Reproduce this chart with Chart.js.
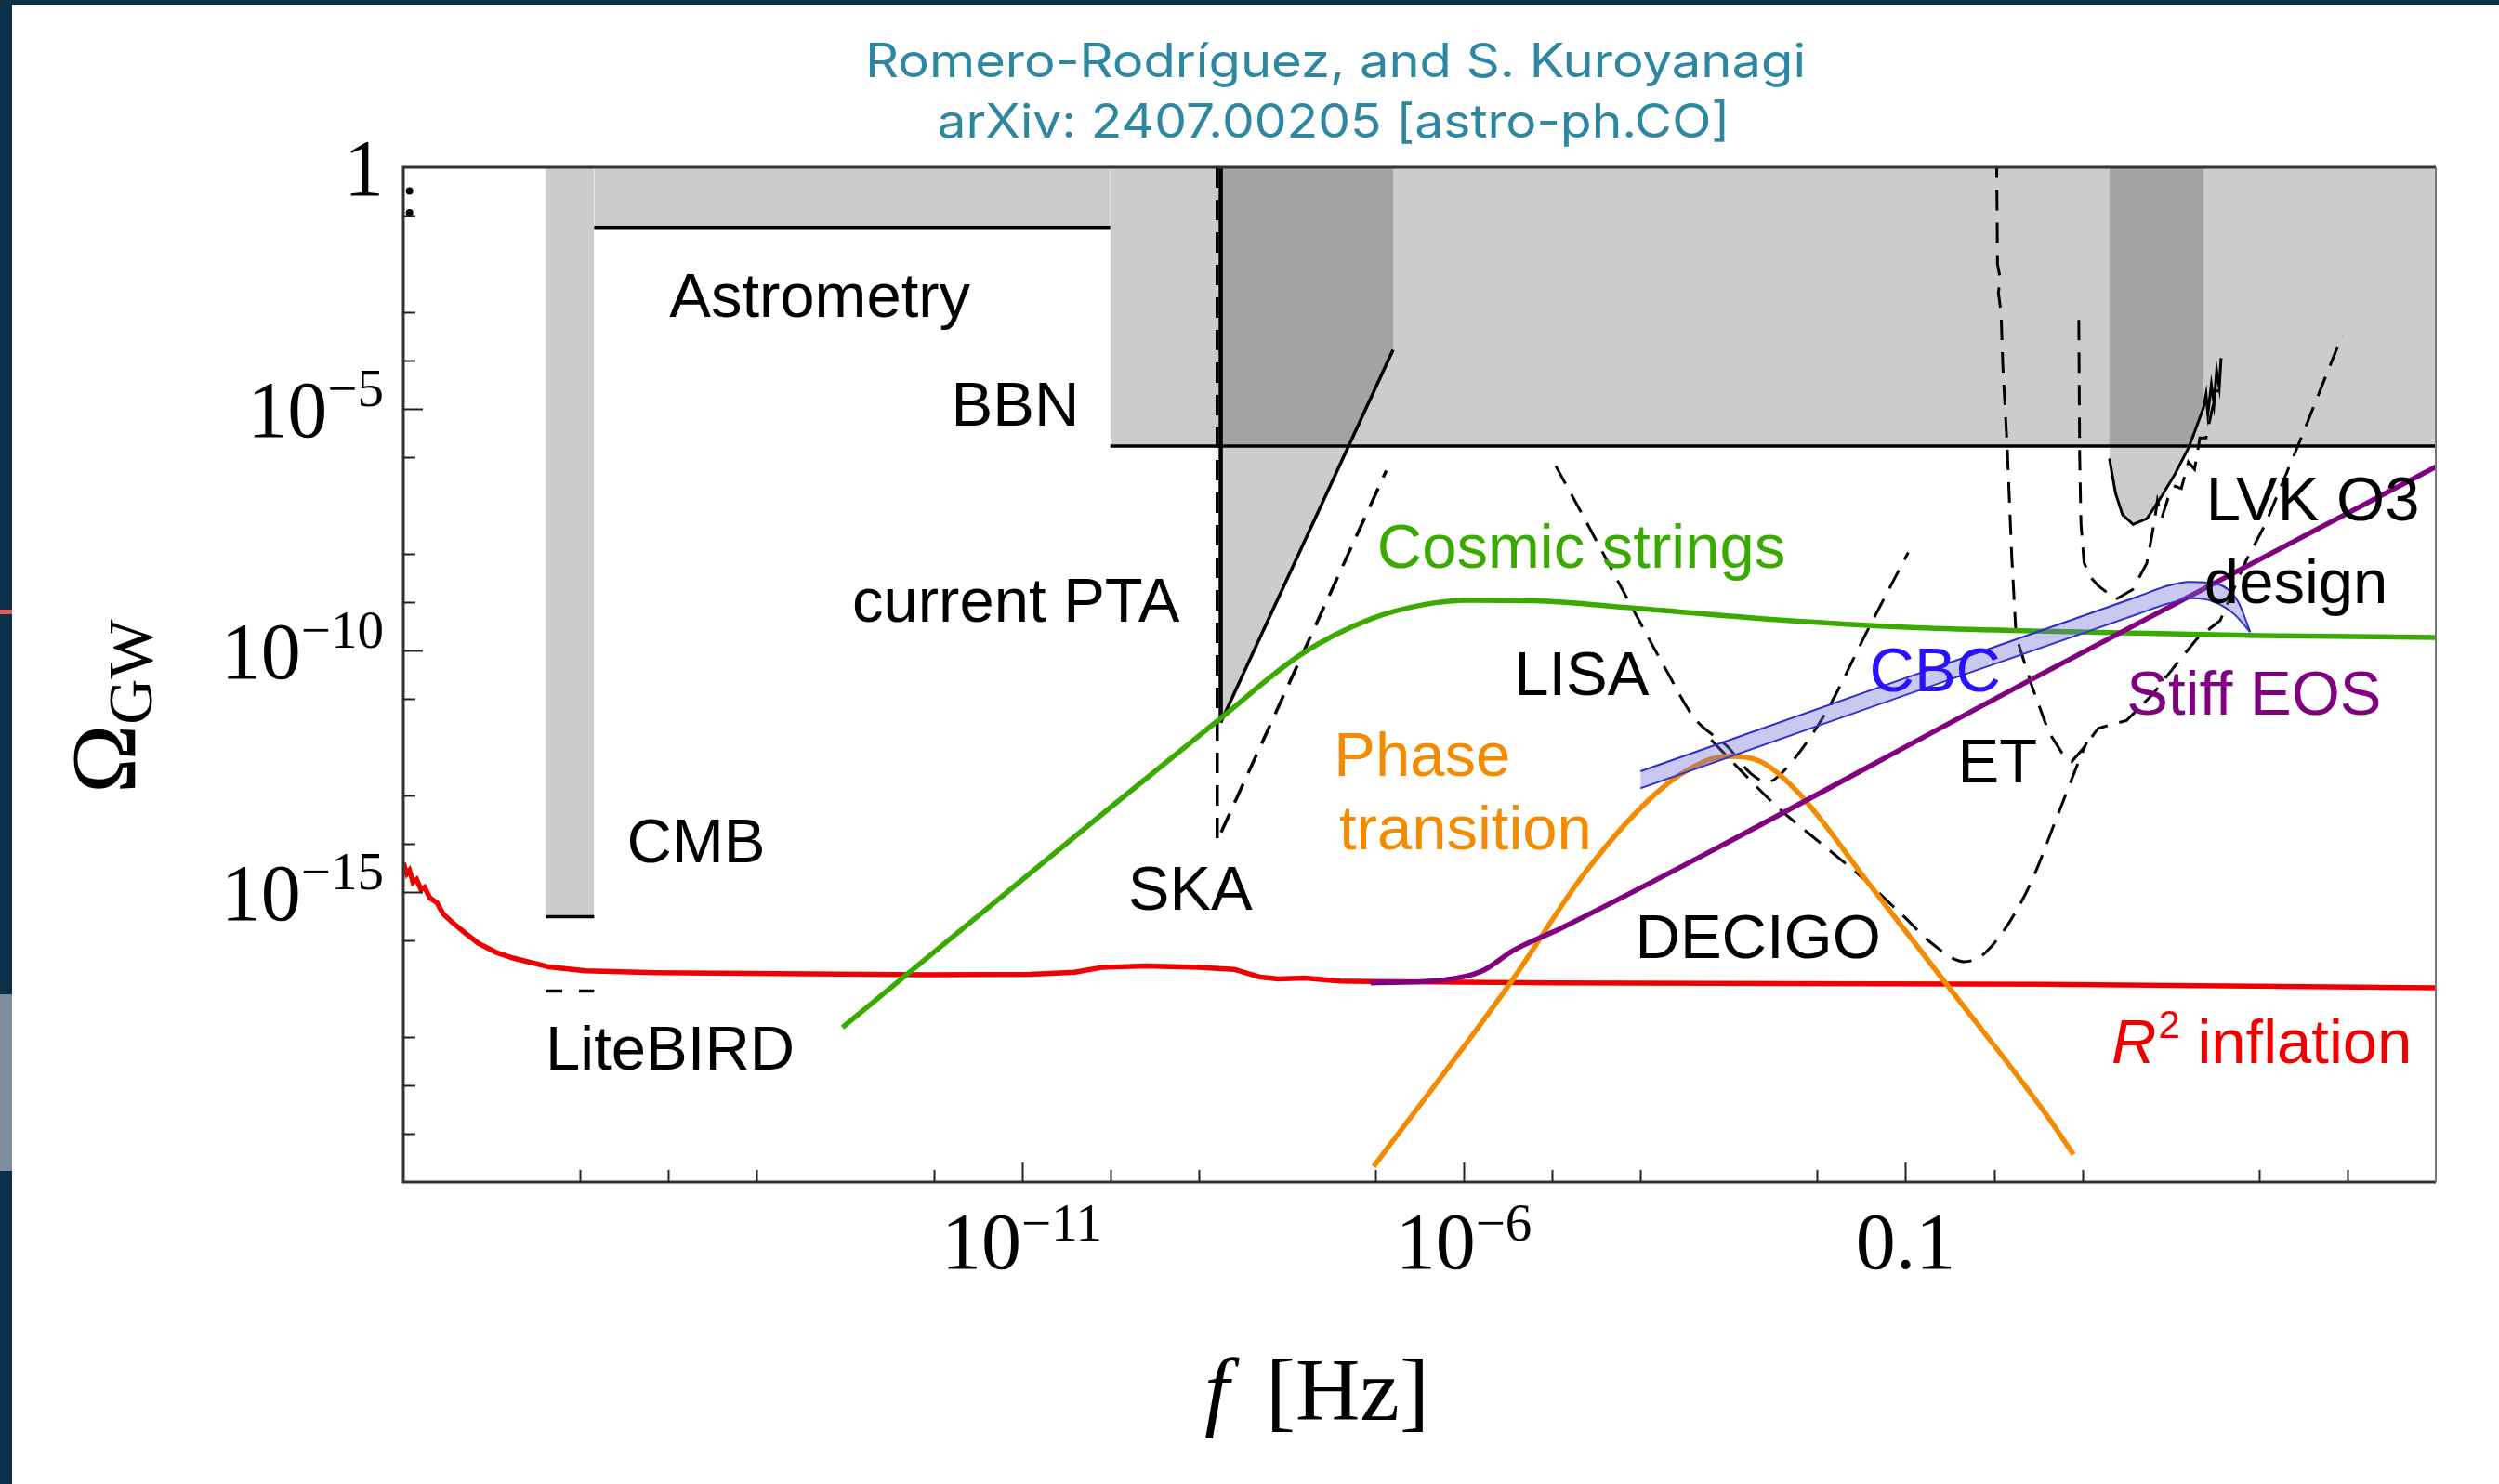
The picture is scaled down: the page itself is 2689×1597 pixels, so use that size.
<!DOCTYPE html>
<html>
<head>
<meta charset="utf-8">
<title>Omega_GW vs frequency</title>
<script src="https://cdn.jsdelivr.net/npm/chart.js@4.4.1/dist/chart.umd.min.js"></script>
<style>
  html, body { margin: 0; padding: 0; background: #fff; overflow: hidden; }
  #wrap { position: relative; width: 2689px; height: 1597px; }
</style>
</head>
<body>
<div id="wrap"><canvas id="gw" width="2689" height="1597"></canvas></div>
<script>
// --- values, as [log10 f/Hz, log10 Omega_GW] ---

// excluded regions (lower boundary, shaded up to Omega = 1)
const cmbBar = [[-16.39, -15.51], [-15.84, -15.51]];
const astrometryBound = [[-15.84, -1.245], [-10.0, -1.245]];
const bbnBound = [[-10.0, -5.77], [5.0, -5.77]];
const ptaBound = [[-8.75, -11.49], [-6.80, -3.78]];
const lvkO3Bound = [[1.306, -6.03], [1.376, -6.75], [1.455, -7.19], [1.574, -7.39], [1.732, -7.27],
  [1.89, -6.83], [2.048, -6.35], [2.206, -5.79], [2.286, -5.40], [2.372, -4.97]];

// solid limit lines
const cmbLine = [[-16.39, -15.51], [-15.84, -15.51]];
const liteBird = [[-16.39, -17.05], [-15.84, -17.05]];
const astrometryLine = [[-15.84, -1.245], [-10.0, -1.245]];
const bbnLine = [[-10.0, -5.77], [5.0, -5.77]];
const ptaLine = [[-8.75, -11.49], [-6.80, -3.78]];
const ptaWall = [[-8.75, 0], [-8.75, -11.49]];
const lvkO3 = [[1.306, -6.03], [1.376, -6.75], [1.455, -7.19], [1.574, -7.39], [1.732, -7.27],
  [1.89, -6.83], [2.048, -6.35], [2.206, -5.79], [2.286, -5.40], [2.372, -4.97], [2.40, -4.7],
  [2.42, -5.1], [2.46, -4.5], [2.49, -4.9], [2.52, -4.2], [2.55, -4.55], [2.57, -3.95]];
const topDots = [[-17.93, -0.49], [-17.93, -0.94]];

// future detectors (dashed)
const ska = [[-8.79, 0], [-8.79, -13.94], [-6.877, -6.28]];
const lisa = [[-4.96, -6.18], [-4.66, -7.18], [-4.09, -9.13], [-3.72, -10.37], [-3.39, -11.40],
  [-3.01, -12.0], [-2.75, -12.55], [-2.56, -12.72], [-2.45, -12.62], [-1.94, -11.40],
  [-1.41, -9.51], [-0.97, -7.97]];
const decigo = [[-3.2, -11.85], [-2.83, -12.55], [-2.45, -13.24], [-1.98, -13.96], [-1.51, -14.67],
  [-1.04, -15.47], [-0.67, -16.11], [-0.34, -16.44], [-0.10, -16.26], [0.37, -14.99],
  [0.74, -13.32], [0.98, -12.2], [1.05, -11.9]];
const et = [[0.03, 0.2], [0.04, -2.0], [0.07, -2.3], [0.05, -2.6], [0.08, -3.0], [0.1, -4.1],
  [0.15, -5.8], [0.2, -8.0], [0.25, -9.7], [0.43, -10.74], [0.62, -11.69], [0.78, -12.15],
  [0.88, -12.3], [1.0, -12.05], [1.18, -11.61], [1.5, -11.45], [1.8, -10.9], [2.1, -10.2],
  [2.3, -9.75], [2.56, -9.38], [2.85, -8.15], [3.07, -7.39], [3.47, -5.63], [3.94, -3.48]];
const lvkDesign = [[0.96, -3.16], [0.97, -6.0], [0.985, -7.39], [1.02, -8.19], [1.1, -8.5],
  [1.18, -8.66], [1.38, -8.94], [1.57, -8.74], [1.73, -8.19], [1.81, -7.39], [1.85, -6.9],
  [1.9, -7.25], [1.97, -6.85], [2.05, -6.6], [2.12, -6.65], [2.2, -6.1], [2.27, -6.25],
  [2.33, -5.6], [2.4, -5.6], [2.47, -5.0], [2.53, -4.6]];

// signals
const cosmicStrings = [[-13.03, -17.80], [-10.0, -13.25], [-8.75, -11.40], [-7.84, -10.08],
  [-7.04, -9.34], [-6.45, -9.05], [-5.96, -8.96], [-5.2, -8.97], [-4.09, -9.12], [-2.48, -9.36],
  [-0.87, -9.53], [0.57, -9.60], [3.0, -9.69], [5.0, -9.73]];
const r2Inflation = [[-18, -14.40], [-17.96, -14.62], [-17.93, -14.55], [-17.89, -14.80],
  [-17.85, -14.74], [-17.80, -14.95], [-17.76, -14.90], [-17.70, -15.12], [-17.62, -15.22],
  [-17.55, -15.45], [-17.45, -15.62], [-17.30, -15.85], [-17.15, -16.06], [-16.95, -16.25],
  [-16.75, -16.37], [-16.35, -16.55], [-15.94, -16.63], [-15.14, -16.67], [-12.05, -16.71],
  [-10.9, -16.70], [-10.4, -16.66], [-10.1, -16.56], [-9.6, -16.53], [-9.0, -16.56],
  [-8.6, -16.60], [-8.3, -16.76], [-8.1, -16.80], [-7.8, -16.78], [-7.4, -16.84],
  [-7.05, -16.85], [-5.0, -16.88], [0.57, -16.91], [5.0, -16.98]];
const stiffEos = [[-7.055, -16.88], [-6.23, -16.82], [-5.80, -16.64], [-5.43, -16.2],
  [-4.89, -15.74], [0.57, -10.46], [5.0, -6.20]];
const phaseTransition = [[-7.02, -20.68], [-5.48, -16.9], [-4.62, -14.58], [-3.82, -12.95],
  [-3.28, -12.30], [-2.99, -12.19], [-2.64, -12.30], [-2.21, -12.95], [-1.41, -14.84],
  [-0.54, -16.9], [0.57, -19.55], [0.90, -20.43]];
const cbcUpper = [[-4.0, -12.50], [-1.0, -10.57], [1.62, -8.89], [1.97, -8.66], [2.21, -8.58],
  [2.52, -8.62], [2.76, -8.98], [2.90, -9.62]];
const cbcLower = [[-4.0, -12.85], [-1.0, -10.92], [1.62, -9.25], [1.97, -9.03], [2.25, -8.92],
  [2.5, -9.0], [2.72, -9.25], [2.90, -9.62]];

// axis ticks (exponents) and their labels
const xTickExps = [-16, -15, -14, -12, -11, -10, -9, -7, -6, -5, -4, -2, -1, 0, 1, 3, 4];
const xMajorExps = [-11, -6, -1];
const xMajorLabels = [['10', '\u221211'], ['10', '\u22126'], ['0.1', '']];
const yTickExps = [-1, -3, -4, -5, -6, -8, -9, -10, -11, -13, -14, -15, -16, -18, -19, -20];
const yMajorExps = [0, -5, -10, -15];
const yMajorLabels = [['1', ''], ['10', '\u22125'], ['10', '\u221210'], ['10', '\u221215']];

// --- drawing setup ---
const pts = arr => arr.map(([lf, lo]) => ({ x: 10 ** lf, y: 10 ** lo }));

const SHADE = 'rgba(0,0,0,0.2)';
const GREEN = '#3aaa00', RED = '#ee0000', PURPLE = '#800080', ORANGE = '#f28b00';
const BLUE_TXT = '#2a10ff', TEAL = '#2e87a1';
const DASH = [22, 13];

const labelSpots = [
  { t: 'Astrometry', f: -14.99, o: -3.09, c: '#000' },
  { t: 'BBN', f: -11.80, o: -5.34, c: '#000' },
  { t: 'current PTA', f: -12.92, o: -9.40, c: '#000' },
  { t: 'CMB', f: -15.47, o: -14.38, c: '#000' },
  { t: 'LiteBIRD', f: -16.39, o: -18.68, c: '#000' },
  { t: 'SKA', f: -9.80, o: -15.36, c: '#000' },
  { t: 'Cosmic strings', f: -6.98, o: -8.29, c: GREEN },
  { t: 'LISA', f: -5.43, o: -10.93, c: '#000' },
  { t: 'Phase', f: -7.47, o: -12.60, c: ORANGE },
  { t: 'transition', f: -7.41, o: -14.11, c: ORANGE },
  { t: 'CBC', f: -1.41, o: -10.85, c: BLUE_TXT },
  { t: 'ET', f: -0.41, o: -12.73, c: '#000' },
  { t: 'DECIGO', f: -4.06, o: -16.36, c: '#000' },
  { t: 'LVK O3', f: 2.40, o: -7.31, c: '#000' },
  { t: 'design', f: 2.38, o: -9.02, c: '#000' },
  { t: 'Stiff EOS', f: 1.50, o: -11.33, c: PURPLE }
];

const line = (label, pairs, opts) => Object.assign({
  label, data: pts(pairs), borderColor: '#000', borderWidth: 3.5, pointRadius: 0,
  fill: false, tension: 0, order: 5
}, opts);

const region = (label, pairs) => line(label, pairs, {
  fill: 'end', backgroundColor: SHADE, borderColor: 'rgba(0,0,0,0)', borderWidth: 0, order: 10
});

// Draw superscripted label, e.g. 10^-5
const supText = (ctx, base, sup, xPos, baseY, align, mainPx, supPx, rise) => {
  const mainFont = `${mainPx}px "Liberation Serif", "DejaVu Serif", serif`;
  const supFont = `${supPx}px "Liberation Serif", "DejaVu Serif", serif`;
  ctx.font = mainFont;
  const bw = ctx.measureText(base).width;
  ctx.font = supFont;
  const sw = sup ? ctx.measureText(sup).width : 0;
  const total = bw + sw;
  const left = align === 'right' ? xPos - total : align === 'center' ? xPos - total / 2 : xPos;
  ctx.textAlign = 'left';
  ctx.textBaseline = 'alphabetic';
  ctx.font = mainFont;
  ctx.fillText(base, left, baseY);
  if (sup) {
    ctx.font = supFont;
    ctx.fillText(sup, left + bw, baseY - rise);
  }
};

const fitCentered = (ctx, text, cx, baseY, targetW) => {
  const w = ctx.measureText(text).width;
  ctx.save();
  ctx.translate(cx, baseY);
  ctx.scale(targetW / w, 1);
  ctx.textAlign = 'center';
  ctx.fillText(text, 0, 0);
  ctx.restore();
};

const decor = {
  id: 'decor',
  beforeDraw(chart) {
    const { ctx, width, height } = chart;
    ctx.save();
    ctx.fillStyle = '#ffffff';
    ctx.fillRect(0, 0, width, height);
    // slide border around the figure
    ctx.fillStyle = '#0d3049';
    ctx.fillRect(0, 0, width, 5);
    ctx.fillRect(0, 0, 13, height);
    ctx.fillStyle = '#e45a5a';
    ctx.fillRect(0, 656, 13, 5);
    ctx.fillStyle = '#7d8f9c';
    ctx.fillRect(0, 1070, 13, 190);
    ctx.restore();
  },
  afterDraw(chart) {
    const { ctx, chartArea: a, scales: { x, y } } = chart;
    ctx.save();

    // frame
    ctx.strokeStyle = '#333';
    ctx.lineWidth = 3;
    ctx.beginPath();
    ctx.moveTo(a.right, a.top);
    ctx.lineTo(a.left, a.top);
    ctx.lineTo(a.left, a.bottom);
    ctx.lineTo(a.right, a.bottom);
    ctx.stroke();
    ctx.strokeStyle = '#777';
    ctx.lineWidth = 2;
    ctx.beginPath();
    ctx.moveTo(a.right, a.top);
    ctx.lineTo(a.right, a.bottom);
    ctx.stroke();

    // inward ticks
    ctx.strokeStyle = '#222';
    ctx.lineWidth = 2;
    xTickExps.forEach(e => {
      const px = Math.round(x.getPixelForValue(10 ** e)) + 0.5;
      const len = xMajorExps.includes(e) ? 21 : 13;
      ctx.beginPath();
      ctx.moveTo(px, a.bottom);
      ctx.lineTo(px, a.bottom - len);
      ctx.stroke();
    });
    yTickExps.forEach(e => {
      const py = Math.round(y.getPixelForValue(10 ** e)) + 0.5;
      const len = yMajorExps.includes(e) ? 21 : 13;
      ctx.beginPath();
      ctx.moveTo(a.left, py);
      ctx.lineTo(a.left + len, py);
      ctx.stroke();
    });

    // tick labels
    ctx.fillStyle = '#000';
    xMajorExps.forEach((e, i) => {
      const px = x.getPixelForValue(10 ** e);
      supText(ctx, xMajorLabels[i][0], xMajorLabels[i][1], px, a.bottom + 93, 'center', 86, 57, 30);
    });
    yMajorExps.forEach((e, i) => {
      const py = y.getPixelForValue(10 ** e);
      supText(ctx, yMajorLabels[i][0], yMajorLabels[i][1], a.left - 21, py + 30, 'right', 86, 57, 33);
    });

    // axis titles
    ctx.save();
    ctx.translate(145, 854);
    ctx.rotate(-Math.PI / 2);
    ctx.font = '100px "Liberation Serif", serif';
    ctx.textAlign = 'left';
    ctx.fillText('\u03A9', 0, 0);
    const ow = ctx.measureText('\u03A9').width;
    ctx.font = '68px "Liberation Serif", serif';
    ctx.fillText('GW', ow, 18);
    ctx.restore();

    ctx.textAlign = 'left';
    ctx.font = 'italic 96px "Liberation Serif", serif';
    ctx.fillText('f', 1296, 1528);
    ctx.font = '96px "Liberation Serif", serif';
    ctx.fillText('[Hz]', 1362, 1528);

    // region labels
    ctx.textBaseline = 'alphabetic';
    ctx.font = '67px "Liberation Sans", Arial, sans-serif';
    labelSpots.forEach(s => {
      ctx.fillStyle = s.c;
      ctx.fillText(s.t, x.getPixelForValue(10 ** s.f), y.getPixelForValue(10 ** s.o));
    });
    // R^2 inflation
    let lx = x.getPixelForValue(10 ** 1.33);
    const ly = y.getPixelForValue(10 ** -18.53);
    ctx.fillStyle = RED;
    ctx.font = 'italic 67px "Liberation Sans", Arial, sans-serif';
    ctx.fillText('R', lx, ly);
    lx += ctx.measureText('R').width + 2;
    ctx.font = '42px "Liberation Sans", Arial, sans-serif';
    ctx.fillText('2', lx, ly - 27);
    lx += ctx.measureText('2').width;
    ctx.font = '67px "Liberation Sans", Arial, sans-serif';
    ctx.fillText(' inflation', lx, ly);

    // header
    ctx.fillStyle = TEAL;
    ctx.font = '50px Inter, "Open Sans", sans-serif';
    fitCentered(ctx, 'Romero-Rodr\u00EDguez, and S. Kuroyanagi', 1437, 83, 1012);
    fitCentered(ctx, 'arXiv: 2407.00205 [astro-ph.CO]', 1435, 148, 853);

    ctx.restore();
  }
};

new Chart(document.getElementById('gw'), {
  type: 'line',
  data: {
    datasets: [
      line('CBC upper', cbcUpper, { borderColor: '#2b2bd0', borderWidth: 2, fill: '+1',
        backgroundColor: 'rgba(110,110,215,0.38)', cubicInterpolationMode: 'monotone', order: 1 }),
      line('CBC lower', cbcLower, { borderColor: '#2b2bd0', borderWidth: 2,
        cubicInterpolationMode: 'monotone', order: 1 }),
      line('Stiff EOS', stiffEos, { borderColor: PURPLE, borderWidth: 5.5, cubicInterpolationMode: 'monotone', order: 2 }),
      line('Phase transition', phaseTransition, { borderColor: ORANGE, borderWidth: 5.5, cubicInterpolationMode: 'monotone', order: 2 }),
      line('Cosmic strings', cosmicStrings, { borderColor: GREEN, borderWidth: 5.5, cubicInterpolationMode: 'monotone', order: 2 }),
      line('R2 inflation', r2Inflation, { borderColor: RED, borderWidth: 5.5, order: 3 }),
      line('LVK O3', lvkO3, { borderWidth: 3 }),
      line('LVK design', lvkDesign, { borderWidth: 3, borderDash: DASH }),
      line('ET', et, { borderWidth: 3, borderDash: DASH }),
      line('DECIGO', decigo, { borderWidth: 3, borderDash: DASH, cubicInterpolationMode: 'monotone' }),
      line('LISA', lisa, { borderWidth: 3, borderDash: DASH, cubicInterpolationMode: 'monotone' }),
      line('SKA', ska, { borderWidth: 3.5, borderDash: DASH }),
      line('PTA wall', ptaWall, { borderWidth: 4.5 }),
      line('PTA', ptaLine, { borderWidth: 3.5 }),
      line('BBN', bbnLine, { borderWidth: 3.5 }),
      line('Astrometry', astrometryLine, { borderWidth: 3.5 }),
      line('CMB', cmbLine, { borderWidth: 3.5 }),
      line('LiteBIRD', liteBird, { borderWidth: 3.5, borderDash: [18, 18] }),
      line('dots', topDots, { showLine: false, pointRadius: 4, pointBackgroundColor: '#000', pointBorderWidth: 0 }),
      region('LVK O3 region', lvkO3Bound),
      region('PTA region', ptaBound),
      region('BBN region', bbnBound),
      region('Astrometry region', astrometryBound),
      region('CMB region', cmbBar)
    ]
  },
  options: {
    responsive: false,
    devicePixelRatio: 1,
    animation: false,
    events: [],
    layout: { padding: { left: 434, right: 68, top: 180, bottom: 325 } },
    plugins: { legend: { display: false }, tooltip: { enabled: false }, title: { display: false } },
    scales: {
      x: { type: 'logarithmic', min: 1e-18, max: 1e5, display: false },
      y: { type: 'logarithmic', min: 1e-21, max: 1, display: false }
    }
  },
  plugins: [decor]
});
</script>
</body>
</html>
